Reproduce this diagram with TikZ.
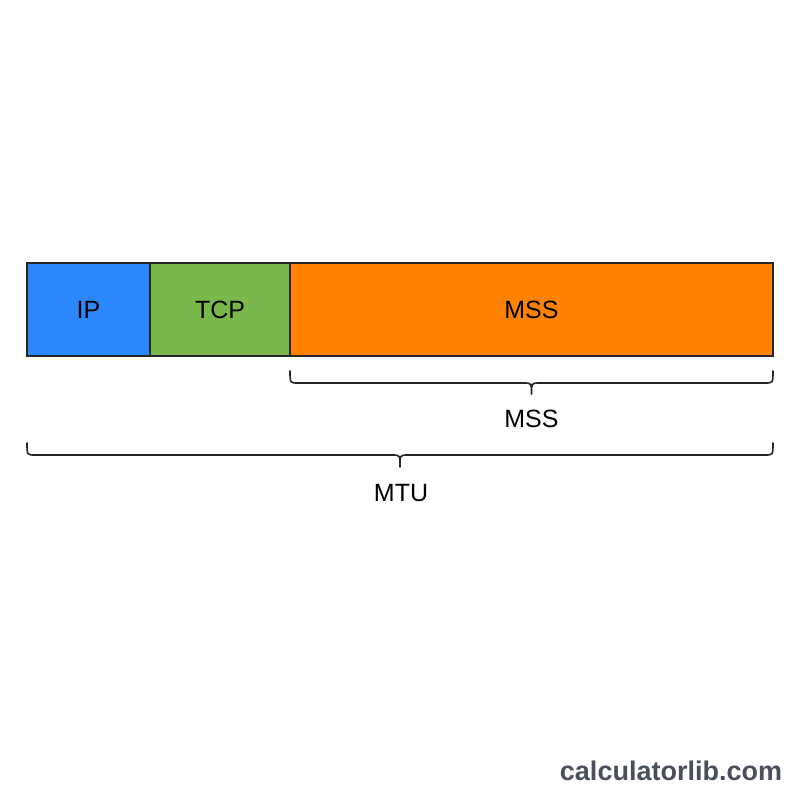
\documentclass[tikz,border=0pt]{standalone}
\usepackage{fontspec}
\setmainfont{Liberation Sans}
\definecolor{ipblue}{HTML}{2B88FC}
\definecolor{tcpgreen}{HTML}{7AB84C}
\definecolor{mssorange}{HTML}{FF8200}
\definecolor{marktxt}{HTML}{4A4F5C}
\begin{document}
\begin{tikzpicture}[x=1pt,y=-1pt,
  seg/.style={draw=black!85, line width=1.8pt, inner sep=0pt, outer sep=0pt,
    minimum height=93pt, anchor=north west, font=\fontsize{25}{30}\selectfont},
  bracepath/.style={draw=black!85, line width=1.6pt, line cap=round, line join=round},
  lbl/.style={font=\fontsize{25}{30}\selectfont, inner sep=0pt}]
\fill[white] (0,0) rectangle (800,800);
\useasboundingbox (0,0) rectangle (800,800);
\node[seg, fill=ipblue, minimum width=123pt] (ip) at (27,263) {};
\node[seg, fill=tcpgreen, minimum width=140pt] (tcp) at (150,263) {};
\node[seg, fill=mssorange, minimum width=483pt] (mss) at (290,263) {};
\node[lbl] (iptxt) at (ip.center) {IP};
\node[lbl] (tcptxt) at (tcp.center) {TCP};
\node[lbl] (msstxt) at (mss.center) {MSS};
% MSS brace
\coordinate (b1l) at (290,371);
\coordinate (b1r) at (773,371);
\coordinate (b1m) at (531.5,394);
\draw[bracepath] (b1l) .. controls (290,383) .. (298,383) -- (523.5,383)
  .. controls (531.5,383) .. (b1m) .. controls (531.5,383) .. (539.5,383)
  -- (765,383) .. controls (773,383) .. (b1r);
\node[lbl] (mssl) at (531.5,419) {MSS};
% MTU brace
\coordinate (b2l) at (27,443);
\coordinate (b2r) at (773,443);
\coordinate (b2m) at (400,467);
\draw[bracepath] (b2l) .. controls (27,455) .. (35,455) -- (392,455)
  .. controls (400,455) .. (b2m) .. controls (400,455) .. (408,455)
  -- (765,455) .. controls (773,455) .. (b2r);
\node[lbl] (mtul) at (401,493) {MTU};
\node[font=\fontsize{27}{32}\selectfont\bfseries, text=marktxt, inner sep=0pt] (mark) at (671,771) {calculatorlib.com};
\end{tikzpicture}
\end{document}
